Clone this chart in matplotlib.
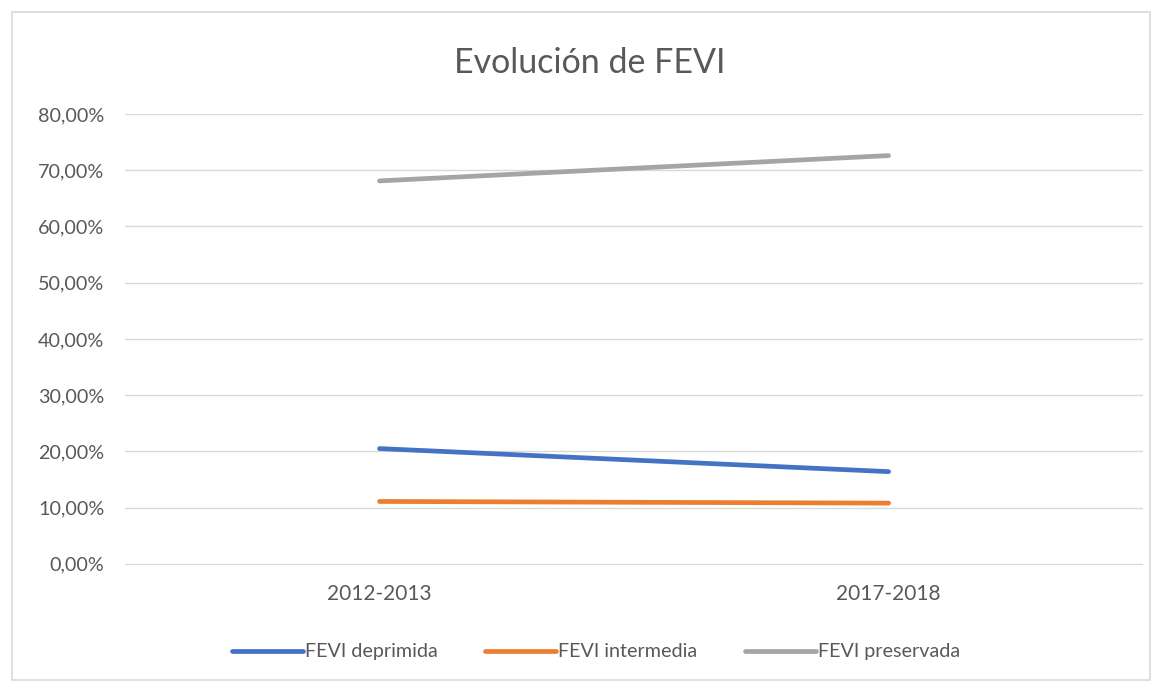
import matplotlib
matplotlib.use("Agg")
import matplotlib.pyplot as plt
from matplotlib.patches import Rectangle
from matplotlib.ticker import FuncFormatter

# data
periods = ["2012-2013", "2017-2018"]
deprimida = [0.205, 0.164]
intermedia = [0.111, 0.108]
preservada = [0.681, 0.726]
series_names = ["FEVI deprimida", "FEVI intermedia", "FEVI preservada"]
colors = ["#4472C4", "#ED7D31", "#A5A5A5"]

plt.rcParams['font.family'] = ['Lato', 'DejaVu Sans']
text_color = "#595959"

fig = plt.figure(figsize=(11.57, 6.87), dpi=100)
ax = fig.add_axes([0.108, 0.1776, 0.88, 0.6565])

# outer chart border
fig.patches.append(Rectangle((12 / 1157, 7 / 687), 1138 / 1157, 668 / 687,
                             transform=fig.transFigure, fill=False,
                             edgecolor="#D9D9D9", linewidth=1.2))

x = list(range(len(periods)))
for vals, name, c in zip([deprimida, intermedia, preservada], series_names, colors):
    ax.plot(x, vals, color=c, linewidth=3.4, label=name, solid_capstyle="round")

ax.set_xlim(-0.5, 1.5)
ax.set_ylim(-0.002, 0.8)
ax.set_yticks([i / 10 for i in range(9)])
ax.yaxis.set_major_formatter(FuncFormatter(lambda v, p: f"{v * 100:.2f}%".replace(".", ",")))
ax.set_xticks(x)
ax.set_xticklabels(periods)
ax.grid(axis="y", color="#D9D9D9", linewidth=1)
ax.set_axisbelow(True)
for s in ax.spines.values():
    s.set_visible(False)
ax.tick_params(axis="y", length=0, colors=text_color, labelsize=14.2, pad=15)
ax.tick_params(axis="x", length=0, colors=text_color, labelsize=15, pad=14)

fig.text(0.51, 0.909, "Evolución de FEVI", ha="center", va="center",
         fontsize=24.5, color=text_color)

fig.legend(loc="center", bbox_to_anchor=(0.515, 0.051), ncol=3, frameon=False,
           fontsize=14.2, handlelength=3.6, handletextpad=0.1, columnspacing=2.4,
           labelcolor=text_color)

fig.savefig("out.png", dpi=100, facecolor="white")
